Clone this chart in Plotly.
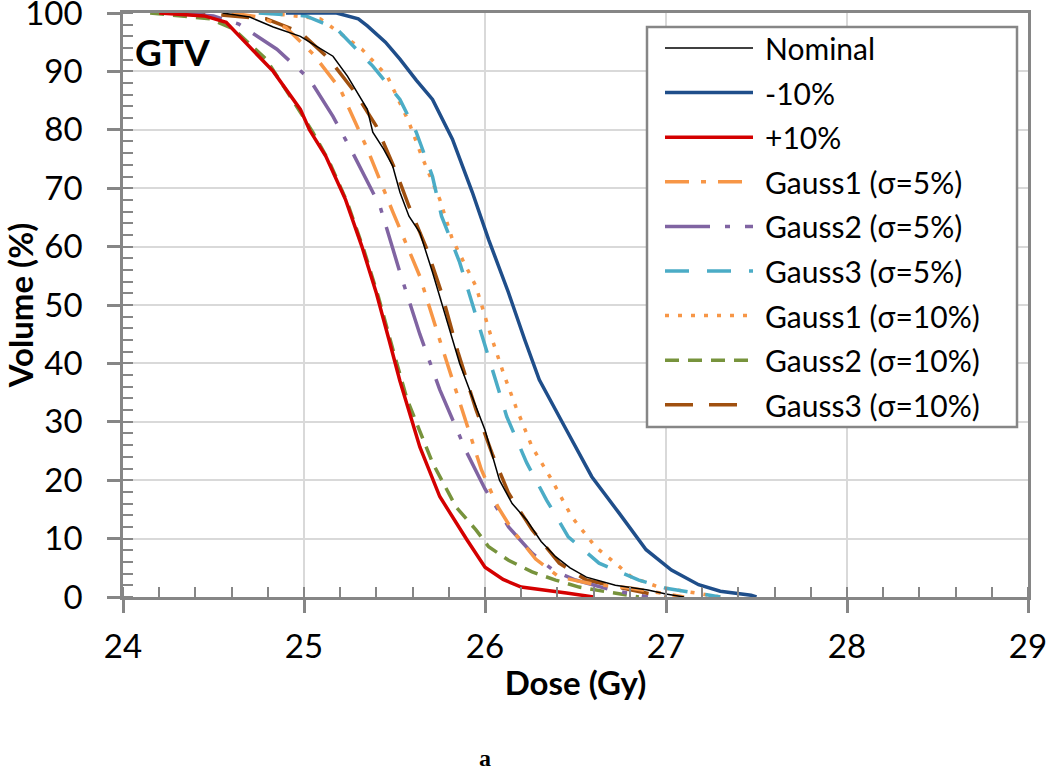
import plotly.graph_objects as go

# ---------------- data (dose in Gy, volume in %) ----------------
nominal_dose = [24.55, 24.70, 24.83, 24.98, 25.07, 25.16, 25.24, 25.35, 25.38, 25.44, 25.49, 25.53, 25.58, 25.64, 25.71, 25.80, 25.86, 25.92, 26.00, 26.08, 26.15, 26.23, 26.31, 26.39, 26.47, 26.56, 26.72, 26.90, 27.00, 27.10]
nominal_vol = [100, 99.3, 97.6, 96.0, 94.3, 92.6, 89.2, 83.5, 79.6, 76.7, 73.8, 69.3, 65.2, 62.4, 55.6, 46.0, 40.0, 35.0, 28.6, 20.0, 16.0, 13.2, 9.5, 6.9, 5.0, 3.4, 2.0, 1.2, 0.5, 0.0]

minus10_dose = [24.90, 25.18, 25.30, 25.35, 25.45, 25.53, 25.62, 25.71, 25.82, 25.93, 26.02, 26.13, 26.22, 26.30, 26.45, 26.59, 26.74, 26.89, 27.03, 27.18, 27.30, 27.47, 27.50]
minus10_vol = [100, 100, 99.0, 97.8, 95.0, 92.1, 88.5, 85.2, 78.4, 69.3, 61.2, 52.1, 44.0, 37.2, 28.6, 20.6, 14.4, 8.1, 4.6, 2.1, 1.0, 0.3, 0.0]

plus10_dose = [24.20, 24.45, 24.57, 24.70, 24.83, 24.98, 25.03, 25.12, 25.23, 25.32, 25.40, 25.47, 25.53, 25.64, 25.75, 25.90, 26.00, 26.10, 26.20, 26.45, 26.60]
plus10_vol = [100, 99.5, 98.4, 94.3, 90.0, 83.5, 80.0, 75.5, 68.0, 60.0, 52.0, 44.0, 37.0, 25.7, 17.2, 9.8, 5.1, 3.0, 1.7, 0.7, 0.0]

g1s5_dose = [24.60, 24.75, 24.90, 25.05, 25.20, 25.35, 25.49, 25.64, 25.75, 25.86, 25.98, 26.07, 26.15, 26.28, 26.41, 26.60, 26.81, 27.10]
g1s5_vol = [100, 99.3, 97.5, 93.0, 87.0, 76.7, 66.0, 54.9, 44.0, 33.3, 21.8, 15.5, 11.5, 6.5, 3.4, 2.2, 1.5, 0.0]

g2s5_dose = [24.30, 24.50, 24.64, 24.85, 25.03, 25.16, 25.27, 25.38, 25.42, 25.53, 25.64, 25.75, 25.90, 26.00, 26.13, 26.26, 26.38, 26.50, 26.70, 26.90]
g2s5_vol = [100, 99.5, 98.1, 93.8, 88.7, 82.3, 76.0, 69.3, 66.9, 55.6, 45.0, 35.5, 24.7, 18.5, 12.0, 7.5, 4.5, 2.9, 1.2, 0.0]

g3s5_dose = [24.75, 25.01, 25.18, 25.38, 25.53, 25.62, 25.71, 25.76, 25.86, 25.95, 26.03, 26.12, 26.23, 26.34, 26.46, 26.63, 26.85, 27.00, 27.30]
g3s5_vol = [100, 99.5, 97.3, 90.9, 85.2, 79.6, 72.0, 65.2, 57.3, 48.0, 40.0, 30.9, 23.0, 16.6, 10.3, 5.8, 2.9, 1.5, 0.0]

g1s10_dose = [24.80, 25.09, 25.32, 25.46, 25.58, 25.65, 25.75, 25.82, 25.95, 26.03, 26.10, 26.17, 26.26, 26.37, 26.48, 26.61, 26.72, 26.81, 26.96, 27.30]
g1s10_vol = [100, 99.0, 93.8, 89.2, 81.3, 75.5, 68.1, 61.2, 53.2, 45.0, 38.5, 32.6, 25.7, 20.0, 13.7, 8.6, 5.8, 3.4, 1.7, 0.0]

g2s10_dose = [24.15, 24.48, 24.61, 24.79, 24.98, 25.05, 25.14, 25.24, 25.33, 25.41, 25.49, 25.57, 25.71, 25.84, 25.95, 26.02, 26.13, 26.26, 26.39, 26.52, 26.67, 26.85]
g2s10_vol = [100, 99.0, 97.3, 92.1, 83.0, 79.5, 74.5, 67.5, 59.5, 51.5, 42.5, 33.8, 23.0, 15.4, 11.5, 8.6, 6.3, 4.3, 2.9, 1.7, 0.9, 0.0]

g3s10_dose = [24.30, 24.48, 24.79, 24.98, 25.14, 25.28, 25.40, 25.51, 25.58, 25.68, 25.76, 25.85, 25.95, 26.04, 26.13, 26.26, 26.41, 26.56, 26.81, 27.00]
g3s10_vol = [100, 99.8, 99.0, 96.7, 92.1, 86.5, 80.6, 72.7, 66.9, 59.5, 52.1, 42.0, 32.1, 24.5, 17.8, 11.5, 5.8, 2.9, 1.2, 0.0]

series_names = ["Nominal", "-10%", "+10%", "Gauss1 (σ=5%)", "Gauss2 (σ=5%)", "Gauss3 (σ=5%)",
                "Gauss1 (σ=10%)", "Gauss2 (σ=10%)", "Gauss3 (σ=10%)"]
series_x = [nominal_dose, minus10_dose, plus10_dose, g1s5_dose, g2s5_dose, g3s5_dose,
            g1s10_dose, g2s10_dose, g3s10_dose]
series_y = [nominal_vol, minus10_vol, plus10_vol, g1s5_vol, g2s5_vol, g3s5_vol,
            g1s10_vol, g2s10_vol, g3s10_vol]

x_ticks = [24, 25, 26, 27, 28, 29]
y_ticks = [0, 10, 20, 30, 40, 50, 60, 70, 80, 90, 100]

# ---------------- styles ----------------
colors = ["#000000", "#1F4E8A", "#D40000", "#F79646", "#8064A2", "#4BACC6",
          "#F79646", "#77933C", "#A0500F"]
widths = [1.5, 3.5, 3.5, 3.5, 3.5, 3.5, 3.5, 3.5, 3.5]
dashes = ["solid", "solid", "solid", "24px,12px,5px,12px", "45px,15px,5px,15px",
          "24px,18px", "4px,9px", "14px,9px", "28px,16px"]

W, H = 1050, 771
L, R, T, B = 123, 22, 13, 174
PW, PH = W - L - R, H - T - B

def px(x):
    return (x - L) / PW

def py(y):
    return (H - B - y) / PH

fig = go.Figure()
order = [8, 7, 6, 5, 4, 3, 2, 1, 0]
for i in order:
    fig.add_trace(go.Scatter(
        x=series_x[i], y=series_y[i], mode="lines", name=series_names[i],
        line=dict(color=colors[i], width=widths[i], dash=dashes[i]),
        showlegend=False))

grid = "#D9D9D9"
axc = "#868686"
tickfont = dict(family="Lato, Liberation Sans, sans-serif", size=33, color="#000000")
titlefont = dict(family="Lato, Liberation Sans, sans-serif", size=33, color="#000000", weight="bold")

fig.update_xaxes(
    range=[24, 29], tickvals=x_ticks, showgrid=True, gridcolor=grid, gridwidth=2,
    showline=True, linecolor=axc, linewidth=2.5, mirror=True, zeroline=False,
    ticks="outside", ticklen=13, tickwidth=2.5, tickcolor=axc, tickfont=tickfont,
    ticklabelstandoff=6, ticklabeloverflow="allow", automargin=False,
    minor=dict(dtick=0.2, ticks="inside", ticklen=10, tickwidth=2, tickcolor=axc, showgrid=False),
    title=dict(text="Dose (Gy)", font=titlefont, standoff=8),
)
fig.update_yaxes(
    range=[0, 100], tickvals=y_ticks, showgrid=True, gridcolor=grid, gridwidth=2,
    showline=True, linecolor=axc, linewidth=2.5, mirror=True, zeroline=False,
    ticks="outside", ticklen=13, tickwidth=2.5, tickcolor=axc, tickfont=tickfont,
    ticklabelstandoff=18, ticklabeloverflow="allow", automargin=False,
    minor=dict(dtick=2, ticks="inside", ticklen=10, tickwidth=2, tickcolor=axc, showgrid=False),
    title=dict(text="Volume (%)", font=titlefont, standoff=6),
)

# ---------------- manual legend ----------------
shapes = [dict(type="rect", xref="paper", yref="paper", x0=px(647), x1=px(1017),
               y0=py(427), y1=py(27), fillcolor="white",
               line=dict(color=axc, width=2.5), layer="above")]
annotations = []
row0, step = 48, 44.6
for k, name in enumerate(series_names):
    yy = row0 + k * step
    shapes.append(dict(type="line", xref="paper", yref="paper", x0=px(665), x1=px(753),
                       y0=py(yy), y1=py(yy), layer="above",
                       line=dict(color=colors[k], width=widths[k], dash=dashes[k])))
    annotations.append(dict(x=px(763), y=py(yy), xref="paper", yref="paper",
                            text=name, showarrow=False, xanchor="left", yanchor="middle",
                            font=dict(family="Lato, Liberation Sans, sans-serif", size=30, color="#000000")))

annotations.append(dict(x=px(133), y=py(51), xref="paper", yref="paper", text="<b>GTV</b>",
                        showarrow=False, xanchor="left", yanchor="middle",
                        font=dict(family="Lato, Liberation Sans, sans-serif", size=37, color="#000000")))
annotations.append(dict(x=px(485), y=py(758), xref="paper", yref="paper", text="<b>a</b>",
                        showarrow=False, xanchor="center", yanchor="middle",
                        font=dict(family="Liberation Serif, Times New Roman, serif", size=24, color="#000000")))

fig.update_layout(
    width=W, height=H, margin=dict(l=L, r=R, t=T, b=B),
    paper_bgcolor="white", plot_bgcolor="white",
    shapes=shapes, annotations=annotations, showlegend=False,
)

fig.write_html("out.html", config={"displayModeBar": False},
               post_script="document.body.style.margin='0px';")
